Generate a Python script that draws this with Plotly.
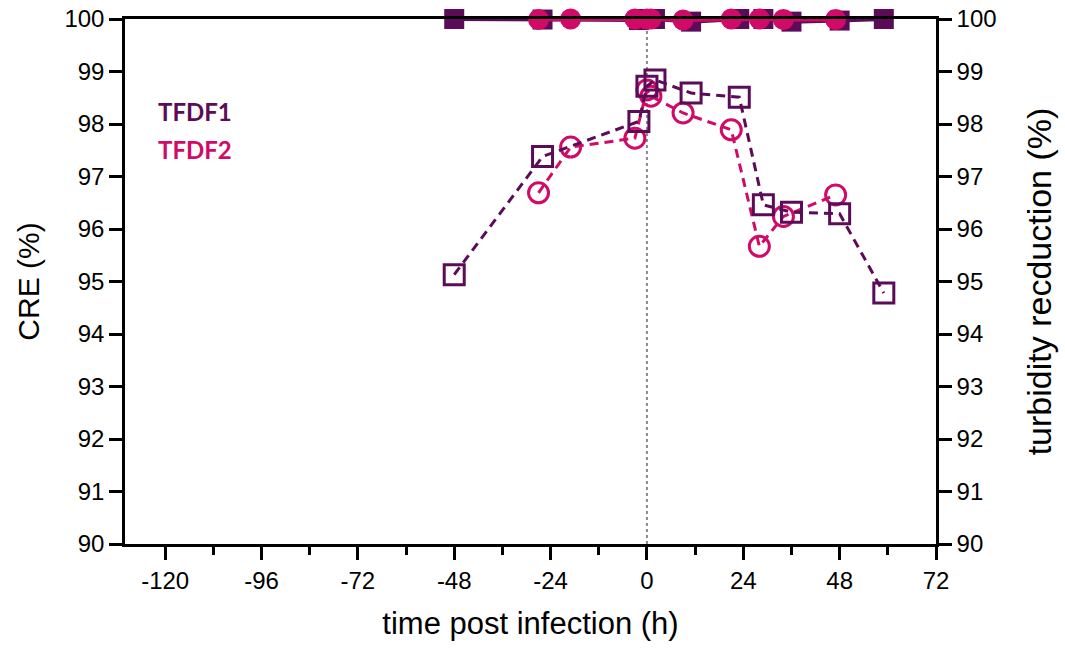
import plotly.graph_objects as go

# ---- data ----
time_tfdf1 = [-48, -26, -2, 0, 2, 11, 23, 29, 36, 48, 59]
cre_tfdf1 = [100, 99.99, 99.98, 100, 100, 99.95, 100, 100, 99.95, 99.97, 100]
turb_tfdf1 = [95.13, 97.38, 98.05, 98.72, 98.84, 98.59, 98.51, 96.46, 96.32, 96.29, 94.78]

time_tfdf2 = [-27, -19, -3, 0, 1, 9, 21, 28, 34, 47]
cre_tfdf2 = [99.99, 100, 100, 100, 100, 99.98, 100, 100, 99.99, 99.99]
turb_tfdf2 = [96.69, 97.56, 97.73, 98.65, 98.53, 98.21, 97.89, 95.67, 96.24, 96.65]

x_ticks = [-120, -96, -72, -48, -24, 0, 24, 48, 72]
x_tick_text = ["-120", "-96", "-72", "-48", "-24", "0", "24", "48", "72"]
y_ticks = [90, 91, 92, 93, 94, 95, 96, 97, 98, 99, 100]

C1 = "#5c0b59"
C2 = "#d10a68"
FONT = "Liberation Sans, Arial, sans-serif"

fig = go.Figure()

# turbidity reduction (open markers, dashed)
fig.add_trace(go.Scatter(
    x=time_tfdf2, y=turb_tfdf2, yaxis="y2", mode="lines+markers", name="TFDF2 turbidity",
    line=dict(color=C2, width=3, dash="9px,6px"),
    marker=dict(symbol="circle-open", size=20, color=C2, line=dict(width=3, color=C2)),
    cliponaxis=False, showlegend=False))
fig.add_trace(go.Scatter(
    x=time_tfdf1, y=turb_tfdf1, yaxis="y2", mode="lines+markers", name="TFDF1 turbidity",
    line=dict(color=C1, width=3, dash="9px,6px"),
    marker=dict(symbol="square-open", size=20, color=C1, line=dict(width=3, color=C1)),
    cliponaxis=False, showlegend=False))

# CRE (filled markers, solid)
fig.add_trace(go.Scatter(
    x=time_tfdf1, y=cre_tfdf1, mode="lines+markers", name="TFDF1 CRE",
    line=dict(color=C1, width=4),
    marker=dict(symbol="square", size=20, color=C1),
    cliponaxis=False, showlegend=False))
fig.add_trace(go.Scatter(
    x=time_tfdf2, y=cre_tfdf2, mode="lines+markers", name="TFDF2 CRE",
    line=dict(color=C2, width=4),
    marker=dict(symbol="circle", size=21, color=C2),
    cliponaxis=False, showlegend=False))

# dotted infection line at t = 0
fig.add_shape(type="line", x0=0, x1=0, y0=0, y1=1, xref="x", yref="paper",
              line=dict(color="#8a8a8a", width=2, dash="dot"), layer="below")

# legend text
fig.add_annotation(x=0.038, y=0.823, xref="paper", yref="paper", text="<b>TFDF1</b>",
                   showarrow=False, xanchor="left", yanchor="middle",
                   font=dict(family="Lato, Open Sans, sans-serif", size=24, color=C1))
fig.add_annotation(x=0.038, y=0.751, xref="paper", yref="paper", text="<b>TFDF2</b>",
                   showarrow=False, xanchor="left", yanchor="middle",
                   font=dict(family="Lato, Open Sans, sans-serif", size=24, color=C2))

axis_common = dict(showgrid=False, zeroline=False, showline=True, linecolor="black",
                   linewidth=2.5, ticks="outside", ticklen=13, tickwidth=2.5, automargin=False,
                   tickcolor="black", tickfont=dict(family=FONT, size=24, color="black"))

fig.update_layout(
    width=1065, height=648,
    margin=dict(l=125, r=129, t=19, b=104),
    paper_bgcolor="white", plot_bgcolor="white",
    xaxis=dict(range=[-130, 72], tickvals=x_ticks, ticktext=x_tick_text, mirror=True,
               minor=dict(dtick=12, ticks="outside", ticklen=8, tickwidth=2.5, tickcolor="black"),
               title=dict(text="time post infection (h)", font=dict(family=FONT, size=31, color="black"),
                          standoff=20),
               **axis_common),
    yaxis=dict(range=[90, 100], tickvals=y_ticks,
               title=dict(text="CRE (%)", font=dict(family=FONT, size=30, color="black"), standoff=16),
               **axis_common),
    yaxis2=dict(range=[90, 100], tickvals=y_ticks, overlaying="y", side="right",
                title=dict(text="turbidity recduction (%)", font=dict(family=FONT, size=34, color="black"),
                           standoff=32),
                **axis_common),
)

fig.write_html("out.html")
